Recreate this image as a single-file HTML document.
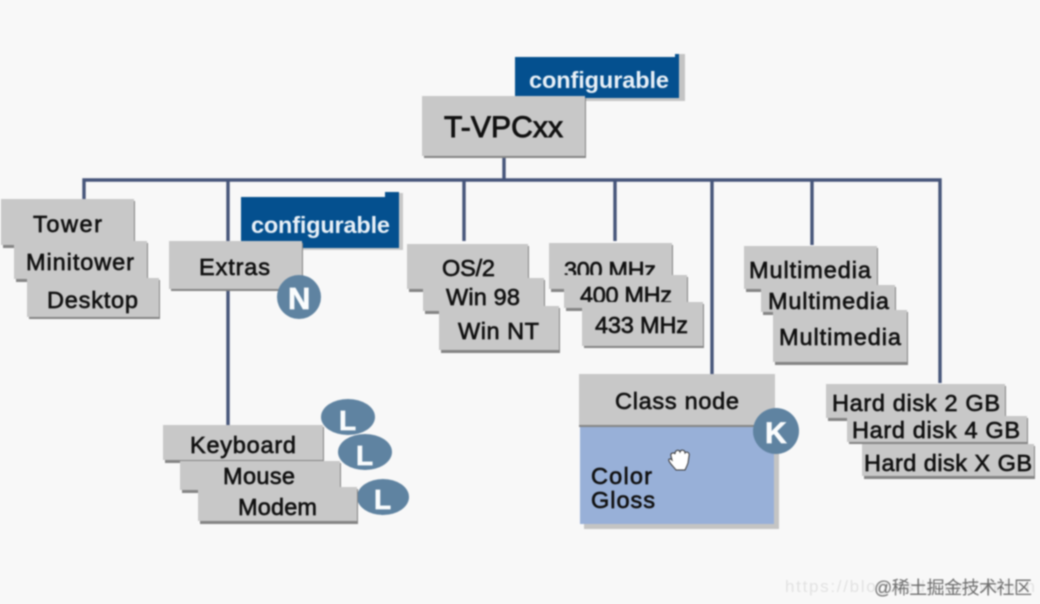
<!DOCTYPE html>
<html><head><meta charset="utf-8"><style>
html,body{margin:0;padding:0;background:#f8f8f8;width:1040px;height:604px;overflow:hidden}
svg{display:block;filter:blur(.7px)}
text{font-family:"Liberation Sans","Noto Sans CJK SC",sans-serif;font-size:23.5px;fill:#111;stroke:#111;stroke-width:.65px}
.b{fill:#c8c8c8}.s{fill:#858585}
.w{fill:#fafcfd;stroke:#fafcfd;font-weight:bold}
.c{font-weight:bold;font-size:23.5px;fill:#e8f0f7;stroke:none}
.l{fill:none;stroke:#46557a;stroke-width:3.4}
.e{fill:#5f83a1}
</style></head><body>
<svg width="1040" height="604" viewBox="0 0 1040 604" xmlns="http://www.w3.org/2000/svg">
<rect width="1040" height="604" fill="#f8f8f8"/>
<!-- connectors -->
<path class="l" d="M504 157V180M84 199V180H940V383M228 180V425M464 180V241M615 180V241M712 180V374M812 180V245"/>

<!-- configurable top -->
<path d="M520 62H676V54H685V101H520Z" fill="#c4c4c4"/>
<path d="M515 57H675V54H679V98H515Z" fill="#04508f"/>
<text class="c" x="529" y="88" textLength="140">configurable</text>
<!-- root -->
<rect class="s" x="424" y="98" width="162" height="60"/>
<rect class="b" x="422" y="96" width="163" height="60"/>
<text x="444" y="137" style="font-size:30px;stroke-width:.9px" textLength="119">T-VPCxx</text>

<!-- tower stack -->
<rect class="s" x="3" y="201" width="132" height="47"/><rect class="b" x="1" y="199" width="133" height="46"/>
<text x="33" y="232" textLength="69">Tower</text>
<rect class="s" x="16" y="243" width="132" height="39"/><rect class="b" x="14" y="241" width="133" height="38"/>
<text x="26" y="270" textLength="108">Minitower</text>
<rect class="s" x="29" y="280" width="131" height="39"/><rect class="b" x="27" y="278" width="132" height="39"/>
<text x="47" y="308" textLength="91">Desktop</text>

<!-- extras -->
<path d="M246 200H385V193H403V250H246Z" fill="#c8c8c8"/>
<path d="M241 197H385V192H399V248H241Z" fill="#04508f"/>
<text class="c" x="251" y="233" textLength="139">configurable</text>
<rect class="s" x="171" y="243" width="132" height="48"/><rect class="b" x="169" y="241" width="133" height="48"/>
<text x="199" y="275" textLength="71">Extras</text>
<circle cx="299" cy="297" r="22" class="e"/>
<text class="w" x="288" y="309" style="font-size:31px" textLength="23">N</text>

<!-- OS -->
<rect class="s" x="409" y="246" width="120" height="46"/><rect class="b" x="407" y="244" width="121" height="45"/>
<text x="442" y="276" textLength="53">OS/2</text>
<rect class="s" x="425" y="280" width="120" height="34"/><rect class="b" x="423" y="278" width="121" height="33"/>
<text x="446" y="305" textLength="74">Win 98</text>
<rect class="s" x="441" y="308" width="119" height="45"/><rect class="b" x="439" y="306" width="120" height="44"/>
<text x="458" y="339" textLength="81">Win NT</text>

<!-- MHz -->
<rect class="s" x="551" y="245" width="122" height="47"/><rect class="b" x="549" y="243" width="123" height="46"/>
<text x="564" y="278" textLength="92">300 MHz</text>
<rect class="s" x="566" y="277" width="122" height="34"/><rect class="b" x="564" y="275" width="123" height="33"/>
<text x="580" y="303" textLength="92">400 MHz</text>
<rect class="s" x="584" y="304" width="120" height="44"/><rect class="b" x="582" y="302" width="121" height="44"/>
<text x="595" y="333" textLength="93">433 MHz</text>

<!-- Multimedia -->
<rect class="s" x="746" y="248" width="132" height="44"/><rect class="b" x="744" y="246" width="133" height="43"/>
<text x="749" y="278" textLength="122">Multimedia</text>
<rect class="s" x="763" y="287" width="133" height="28"/><rect class="b" x="761" y="285" width="134" height="27"/>
<text x="768" y="309" textLength="121">Multimedia</text>
<rect class="s" x="775" y="312" width="133" height="53"/><rect class="b" x="773" y="310" width="134" height="52"/>
<text x="779" y="345" textLength="122">Multimedia</text>

<!-- Class node -->
<rect x="584" y="430" width="195" height="99" fill="#c4c4c4"/>
<rect x="580" y="427" width="194" height="97" fill="#98b0d8"/>
<rect class="b" x="579" y="374" width="196" height="52"/>
<rect class="s" x="579" y="425" width="196" height="2"/>
<text x="615" y="409" textLength="124">Class node</text>
<text x="591" y="484" textLength="61">Color</text>
<text x="591" y="508" textLength="64">Gloss</text>
<circle cx="776" cy="431" r="23" class="e"/>
<text class="w" x="765" y="443" style="font-size:30px" textLength="22">K</text>
<path d="M671 456C670 453 674 452 675 454C675 450 679 449 680 452C681 449 685 450 685 453C687 451 690 453 689 456L688 463C687 466 686 468 685 470H676C674 467 671 465 669 461C668 459 670 458 672 460Z" fill="#fff" stroke="#333" stroke-width="1"/>

<!-- Hard disks -->
<rect class="s" x="828" y="386" width="178" height="35"/><rect class="b" x="826" y="384" width="179" height="34"/>
<text x="832" y="411" textLength="168">Hard disk 2 GB</text>
<rect class="s" x="849" y="418" width="179" height="26"/><rect class="b" x="847" y="416" width="180" height="26"/>
<text x="852" y="438" textLength="168">Hard disk 4 GB</text>
<rect class="s" x="864" y="446" width="171" height="33"/><rect class="b" x="862" y="444" width="172" height="32"/>
<text x="864" y="471" textLength="168">Hard disk X GB</text>

<!-- Extras children -->
<ellipse cx="348" cy="417" rx="27" ry="18" class="e"/>
<text class="w" x="339" y="430" style="font-size:28px" textLength="17">L</text>
<rect class="s" x="165" y="427" width="159" height="36"/><rect class="b" x="163" y="425" width="160" height="35"/>
<text x="190" y="453" textLength="106">Keyboard</text>
<ellipse cx="365" cy="452" rx="27" ry="18" class="e"/>
<text class="w" x="356" y="465" style="font-size:28px" textLength="17">L</text>
<rect class="s" x="182" y="463" width="159" height="30"/><rect class="b" x="180" y="461" width="160" height="29"/>
<text x="223" y="484" textLength="72">Mouse</text>
<ellipse cx="383" cy="497" rx="26" ry="18" class="e"/>
<text class="w" x="374" y="509" style="font-size:28px" textLength="17">L</text>
<rect class="s" x="200" y="489" width="158" height="35"/><rect class="b" x="198" y="487" width="159" height="34"/>
<text x="238" y="515" textLength="79">Modem</text>

<!-- watermark -->
<text x="785" y="592" style="font-size:17px;fill:#e2e2e2;stroke:none" textLength="250">https://blog.csdn.net/weixin</text>
<text x="874" y="594" style="font-size:18px;fill:#6e6e6e;stroke:none" textLength="158">@稀土掘金技术社区</text>
</svg>
</body></html>
